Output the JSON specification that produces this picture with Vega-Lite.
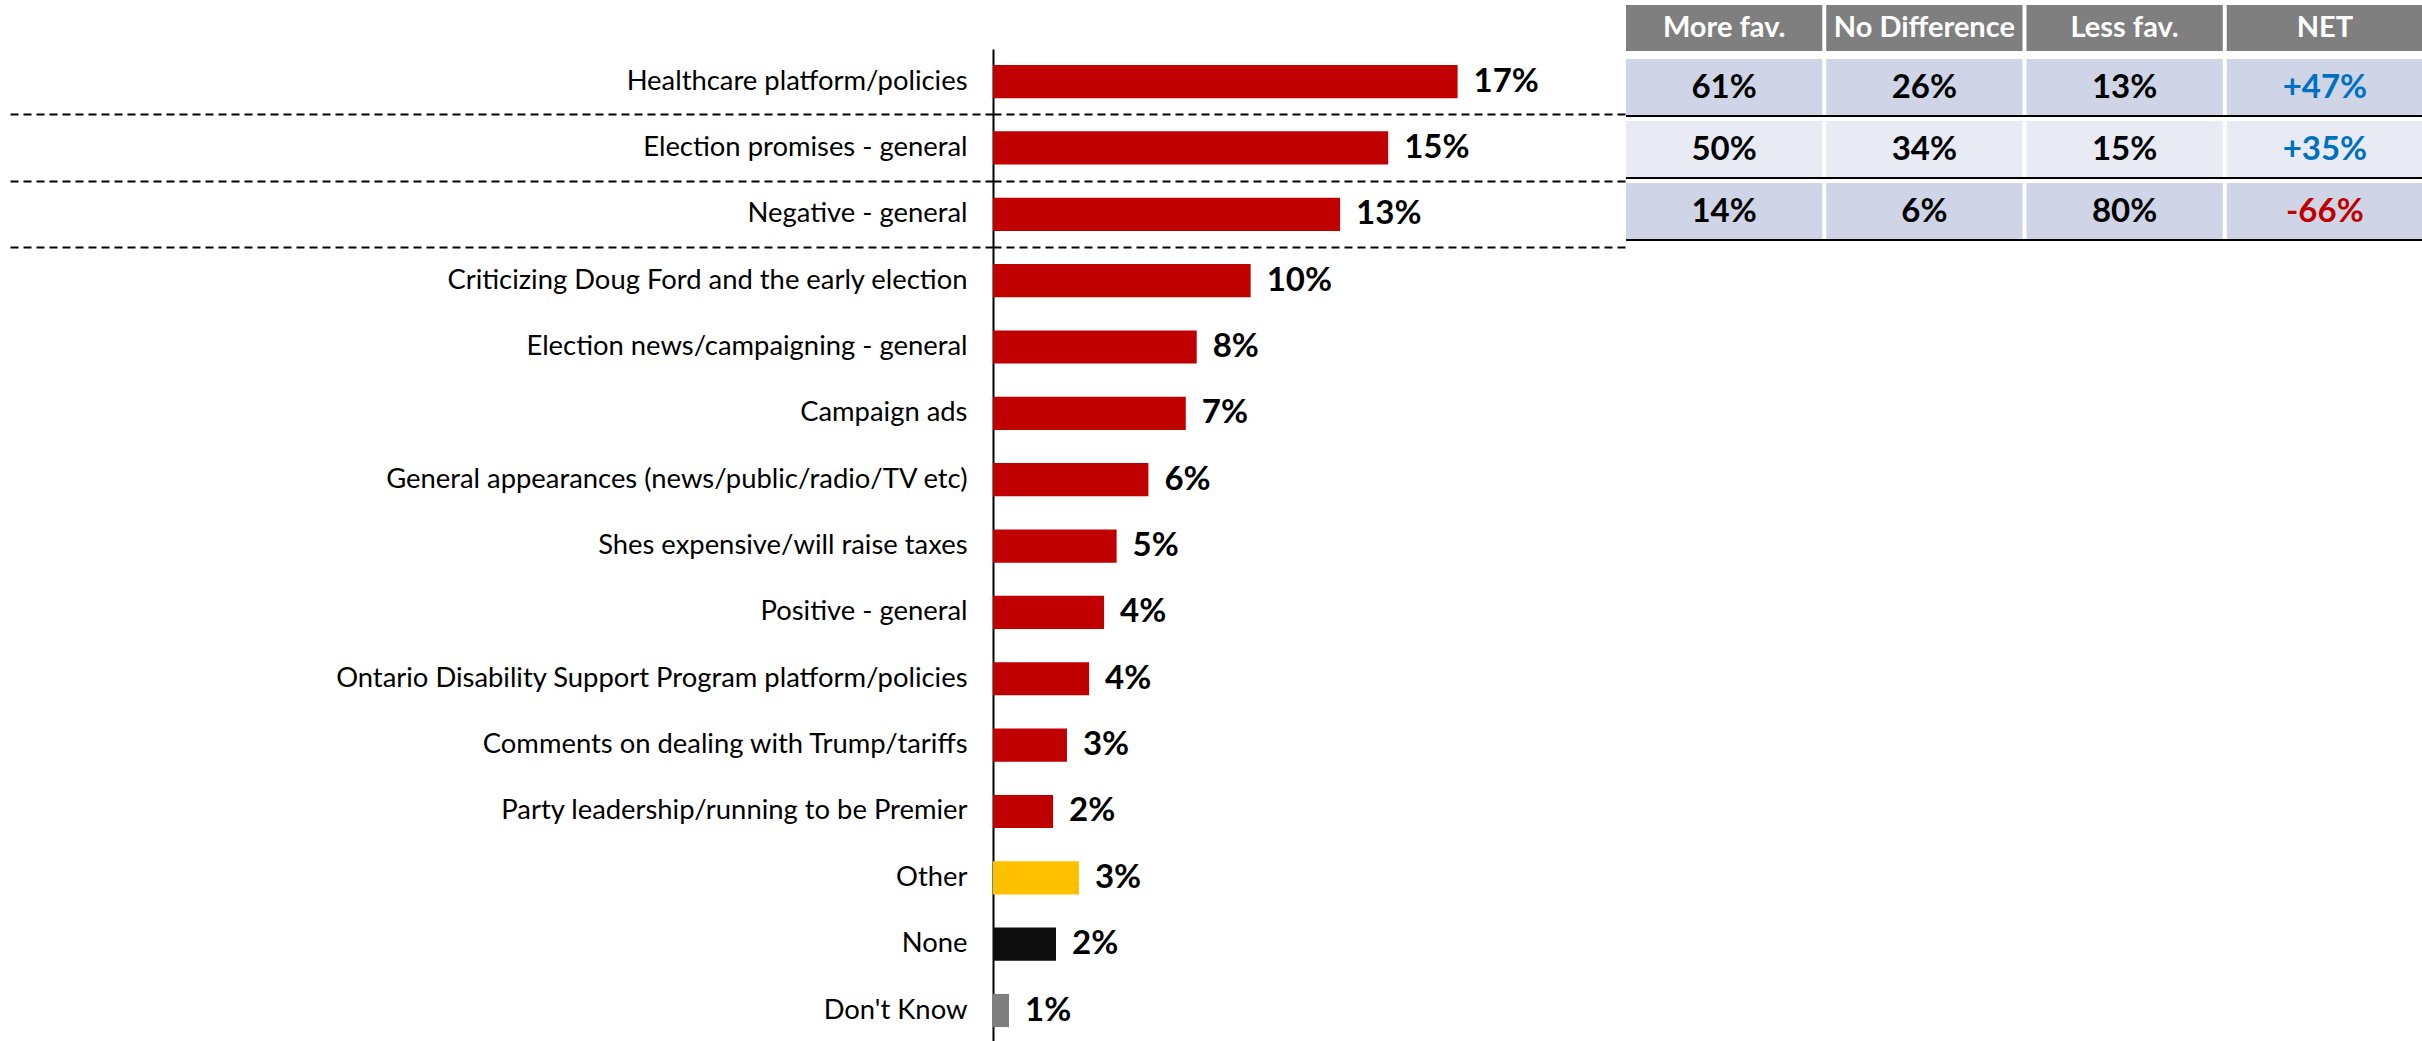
{
  "$schema": "https://vega.github.io/schema/vega-lite/v6.json",
  "padding": {"left": 9, "top": 5, "right": 0, "bottom": 0},
  "spacing": 0,
  "resolve": {"scale": {"color": "independent"}},
  "config": {
    "view": {"stroke": null},
    "text": {"font": "Lato"},
    "axis": {"labelFont": "Lato"}
  },
  "datasets": {
    "bars": [
      {"cat": "Healthcare platform/policies", "pct": 17.4, "label": "17%", "grp": "Topic"},
      {"cat": "Election promises - general", "pct": 14.8, "label": "15%", "grp": "Topic"},
      {"cat": "Negative - general", "pct": 13.0, "label": "13%", "grp": "Topic"},
      {"cat": "Criticizing Doug Ford and the early election", "pct": 9.65, "label": "10%", "grp": "Topic"},
      {"cat": "Election news/campaigning - general", "pct": 7.63, "label": "8%", "grp": "Topic"},
      {"cat": "Campaign ads", "pct": 7.22, "label": "7%", "grp": "Topic"},
      {"cat": "General appearances (news/public/radio/TV etc)", "pct": 5.82, "label": "6%", "grp": "Topic"},
      {"cat": "Shes expensive/will raise taxes", "pct": 4.63, "label": "5%", "grp": "Topic"},
      {"cat": "Positive - general", "pct": 4.16, "label": "4%", "grp": "Topic"},
      {"cat": "Ontario Disability Support Program platform/policies", "pct": 3.6, "label": "4%", "grp": "Topic"},
      {"cat": "Comments on dealing with Trump/tariffs", "pct": 2.77, "label": "3%", "grp": "Topic"},
      {"cat": "Party leadership/running to be Premier", "pct": 2.25, "label": "2%", "grp": "Topic"},
      {"cat": "Other", "pct": 3.22, "label": "3%", "grp": "Other"},
      {"cat": "None", "pct": 2.36, "label": "2%", "grp": "None"},
      {"cat": "Don't Know", "pct": 0.6, "label": "1%", "grp": "Don't Know"}
    ],
    "cols": [
      {"col": "More fav."},
      {"col": "No Difference"},
      {"col": "Less fav."},
      {"col": "NET"}
    ],
    "dividers": [
      {"row": "Healthcare platform/policies"},
      {"row": "Election promises - general"},
      {"row": "Negative - general"}
    ],
    "table": [
      {"row": "Healthcare platform/policies", "col": "More fav.", "value": "61%", "tone": "plain", "shade": "dark"},
      {"row": "Healthcare platform/policies", "col": "No Difference", "value": "26%", "tone": "plain", "shade": "dark"},
      {"row": "Healthcare platform/policies", "col": "Less fav.", "value": "13%", "tone": "plain", "shade": "dark"},
      {"row": "Healthcare platform/policies", "col": "NET", "value": "+47%", "tone": "pos", "shade": "dark"},
      {"row": "Election promises - general", "col": "More fav.", "value": "50%", "tone": "plain", "shade": "light"},
      {"row": "Election promises - general", "col": "No Difference", "value": "34%", "tone": "plain", "shade": "light"},
      {"row": "Election promises - general", "col": "Less fav.", "value": "15%", "tone": "plain", "shade": "light"},
      {"row": "Election promises - general", "col": "NET", "value": "+35%", "tone": "pos", "shade": "light"},
      {"row": "Negative - general", "col": "More fav.", "value": "14%", "tone": "plain", "shade": "dark"},
      {"row": "Negative - general", "col": "No Difference", "value": "6%", "tone": "plain", "shade": "dark"},
      {"row": "Negative - general", "col": "Less fav.", "value": "80%", "tone": "plain", "shade": "dark"},
      {"row": "Negative - general", "col": "NET", "value": "-66%", "tone": "neg", "shade": "dark"}
    ]
  },
  "hconcat": [
    {
      "width": 632,
      "height": 1036,
      "data": {"name": "bars"},
      "encoding": {
        "y": {
          "field": "cat",
          "type": "nominal",
          "sort": null,
          "scale": {"paddingInner": 0.5, "paddingOuter": 0.557, "align": 0.812},
          "axis": {
            "title": null,
            "labelFontSize": 27.4,
            "labelColor": "#000000",
            "labelLimit": 900,
            "labelPadding": -957,
            "domain": true,
            "domainColor": "#000000",
            "domainWidth": 2,
            "domainDash": [1036, 44],
            "domainDashOffset": 1036,
            "ticks": true,
            "tickSize": 983,
            "tickWidth": 2,
            "tickColor": "#000000",
            "tickDash": [8, 5],
            "bandPosition": 1.5,
            "tickOpacity": {"condition": {"test": "indexof(['Healthcare platform/policies','Election promises - general','Negative - general'], datum.value) >= 0", "value": 1}, "value": 0},
            "grid": true,
            "gridWidth": 2,
            "gridColor": "#000000",
            "gridDash": [8, 5],
            "gridOpacity": {"condition": {"test": "indexof(['Healthcare platform/policies','Election promises - general','Negative - general'], datum.value) >= 0", "value": 1}, "value": 0}
          }
        }
      },
      "layer": [
        {
          "mark": {"type": "bar"},
          "encoding": {
            "x": {"field": "pct", "type": "quantitative", "scale": {"domain": [0, 23.67], "nice": false, "zero": true}, "axis": null},
            "color": {
              "field": "grp",
              "type": "nominal",
              "scale": {"domain": ["Topic", "Other", "None", "Don't Know"], "range": ["#C00000", "#FFC000", "#0D0D0D", "#7F7F7F"]},
              "legend": null
            }
          }
        },
        {
          "mark": {"type": "text", "align": "left", "baseline": "middle", "dx": 16, "fontWeight": "bold", "fontSize": 33, "color": "#000000"},
          "encoding": {
            "x": {"field": "pct", "type": "quantitative"},
            "text": {"field": "label"}
          }
        }
      ]
    },
    {
      "spacing": 8,
      "vconcat": [
        {
          "width": 797,
          "height": 46,
          "data": {"name": "cols"},
          "encoding": {
            "x": {
              "field": "col",
              "type": "nominal",
              "sort": ["More fav.", "No Difference", "Less fav.", "NET"],
              "scale": {"paddingInner": 0.02, "paddingOuter": 0},
              "axis": null
            }
          },
          "layer": [
            {"mark": {"type": "rect", "color": "#7F7F7F"}},
            {
              "mark": {"type": "text", "color": "#FFFFFF", "fontWeight": "bold", "fontSize": 29, "baseline": "middle"},
              "encoding": {"text": {"field": "col"}}
            }
          ]
        },
        {
          "width": 797,
          "height": 182,
          "layer": [
            {
              "data": {"name": "table"},
              "mark": {"type": "rect"},
              "encoding": {
                "x": {
                  "field": "col",
                  "type": "nominal",
                  "sort": ["More fav.", "No Difference", "Less fav.", "NET"],
                  "scale": {"paddingInner": 0.02, "paddingOuter": 0},
                  "axis": null
                },
                "y": {
                  "field": "row",
                  "type": "nominal",
                  "sort": null,
                  "scale": {"paddingInner": 0.065, "paddingOuter": 0},
                  "axis": null
                },
                "fill": {"field": "shade", "type": "nominal", "scale": {"domain": ["dark", "light"], "range": ["#CFD5E6", "#E8EBF4"]}, "legend": null}
              }
            },
            {
              "data": {"name": "table"},
              "mark": {"type": "text", "fontWeight": "bold", "fontSize": 33, "baseline": "middle"},
              "encoding": {
                "x": {"field": "col", "type": "nominal", "sort": ["More fav.", "No Difference", "Less fav.", "NET"]},
                "y": {"field": "row", "type": "nominal", "sort": null},
                "text": {"field": "value"},
                "color": {"field": "tone", "type": "nominal", "scale": {"domain": ["plain", "pos", "neg"], "range": ["#000000", "#0070C0", "#C00000"]}, "legend": null}
              }
            },
            {
              "data": {"name": "dividers"},
              "mark": {"type": "rule", "stroke": "#000000", "strokeWidth": 2, "yOffset": 28},
              "encoding": {
                "y": {"field": "row", "type": "nominal", "sort": null}
              }
            }
          ]
        }
      ]
    }
  ]
}
